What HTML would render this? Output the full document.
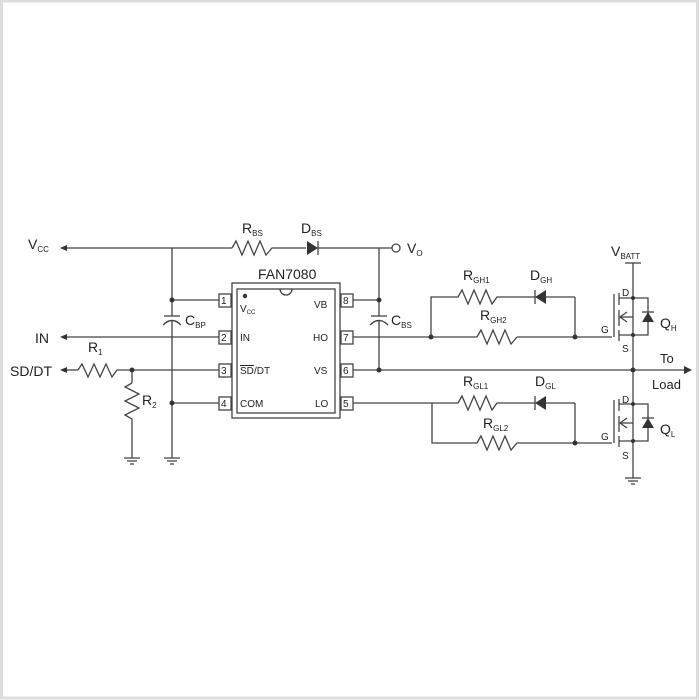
<!DOCTYPE html>
<html><head><meta charset="utf-8"><style>
body{margin:0;background:#fff}
svg{display:block}
text{font-family:"Liberation Sans",sans-serif;fill:#222}
</style></head><body>
<svg width="700" height="700" viewBox="0 0 700 700" xmlns="http://www.w3.org/2000/svg">
<rect x="1.5" y="1" width="696" height="697" fill="#fff" stroke="#ddd" stroke-width="3"/>
<g stroke="#444" stroke-width="1.3" fill="none">
<line x1="66" y1="248" x2="232" y2="248"/>
<polyline points="232,248 236,241 242,255 248,241 254,255 260,241 266,255 272,248 306,248"/>
<line x1="318" y1="248" x2="392" y2="248"/>
<circle cx="396" cy="248" r="4" fill="#fff"/>
<line x1="379" y1="248" x2="379" y2="316"/>
<line x1="379" y1="321" x2="379" y2="370"/>
<line x1="172" y1="248" x2="172" y2="316"/>
<line x1="172" y1="321" x2="172" y2="458"/>
<rect x="232" y="283" width="108" height="135"/>
<rect x="237" y="289" width="98" height="124"/>
<rect x="219" y="294" width="12" height="13"/>
<rect x="219" y="331" width="12" height="13"/>
<rect x="219" y="364" width="12" height="13"/>
<rect x="219" y="397" width="12" height="13"/>
<rect x="341" y="294" width="12" height="13"/>
<rect x="341" y="331" width="12" height="13"/>
<rect x="341" y="364" width="12" height="13"/>
<rect x="341" y="397" width="12" height="13"/>
<path d="M280,289 A6,6 0 0 0 292,289" />
<line x1="172" y1="300" x2="219" y2="300"/>
<line x1="172" y1="403" x2="219" y2="403"/>
<line x1="66" y1="337" x2="219" y2="337"/>
<line x1="66" y1="370" x2="78" y2="370"/>
<polyline points="78,370 82,364 88,377 94,364 100,377 106,364 112,377 117,370 219,370"/>
<line x1="132" y1="370" x2="132" y2="383"/>
<polyline points="132,383 125,387 139,394 125,401 139,408 125,415 132,419 132,458"/>
<line x1="124" y1="458" x2="140" y2="458"/><line x1="127" y1="461" x2="137" y2="461"/><line x1="130" y1="464" x2="134" y2="464"/>
<line x1="164" y1="458" x2="180" y2="458"/><line x1="167" y1="461" x2="177" y2="461"/><line x1="170" y1="464" x2="174" y2="464"/>
<line x1="625" y1="478" x2="641" y2="478"/><line x1="628" y1="481" x2="638" y2="481"/><line x1="631" y1="484" x2="635" y2="484"/>
<line x1="164" y1="316" x2="180" y2="316"/><path d="M163,325 Q172,316 181,325"/>
<line x1="371" y1="316" x2="387" y2="316"/><path d="M370,325 Q379,316 388,325"/>
<line x1="353" y1="300" x2="379" y2="300"/>
<line x1="353" y1="337" x2="477" y2="337"/>
<line x1="517" y1="337" x2="612" y2="337"/>
<line x1="353" y1="370" x2="684" y2="370"/>
<line x1="353" y1="403" x2="432" y2="403"/>
<polyline points="431,337 431,297 458,297 462,290 468,304 474,290 480,304 486,290 492,304 497,297 535,297"/>
<line x1="545" y1="297" x2="575" y2="297"/>
<line x1="575" y1="297" x2="575" y2="337"/>
<polyline points="477,337 481,330 487,344 493,330 499,344 505,330 511,344 517,337"/>
<polyline points="432,403 458,403 462,396 468,410 474,396 480,410 486,396 492,410 497,403 535,403"/>
<line x1="545" y1="403" x2="575" y2="403"/>
<polyline points="432,403 432,443 477,443 481,436 487,450 493,436 499,450 505,436 511,450 517,443 612,443"/>
<line x1="575" y1="403" x2="575" y2="443"/>
<line x1="625" y1="263" x2="641" y2="263"/>
<line x1="633" y1="263" x2="633" y2="478"/>
<line x1="614" y1="294" x2="614" y2="337"/>
<line x1="619" y1="293" x2="619" y2="305"/><line x1="619" y1="310" x2="619" y2="326"/><line x1="619" y1="330" x2="619" y2="341"/>
<polyline points="619,298 648,298 648,335 619,335"/>
<line x1="633" y1="317" x2="621" y2="317"/><polyline points="627,312 620,317 627,322"/>
<line x1="642" y1="312" x2="654" y2="312"/>
<line x1="614" y1="400" x2="614" y2="443"/>
<line x1="619" y1="399" x2="619" y2="411"/><line x1="619" y1="416" x2="619" y2="432"/><line x1="619" y1="436" x2="619" y2="447"/>
<polyline points="619,404 648,404 648,441 619,441"/>
<line x1="633" y1="423" x2="621" y2="423"/><polyline points="627,418 620,423 627,428"/>
<line x1="642" y1="418" x2="654" y2="418"/>
<line x1="318" y1="241" x2="318" y2="255"/>
<line x1="535" y1="290" x2="535" y2="304"/>
<line x1="535" y1="396" x2="535" y2="410"/>
</g>
<g fill="#333">
<path d="M60,248 L67,245 L67,251z"/>
<path d="M60,337 L67,334 L67,340z"/>
<path d="M60,370 L67,367 L67,373z"/>
<path d="M692,370 L684,366 L684,374z"/>
<path d="M307,241 L318,248 L307,255z"/>
<path d="M546,290 L535,297 L546,304z"/>
<path d="M546,396 L535,403 L546,410z"/>
<path d="M648,312 L642,322 L654,322z"/>
<path d="M648,418 L642,428 L654,428z"/>
<circle cx="172" cy="300" r="2.5"/><circle cx="172" cy="403" r="2.5"/>
<circle cx="132" cy="370" r="2.5"/>
<circle cx="379" cy="300" r="2.5"/><circle cx="379" cy="370" r="2.5"/>
<circle cx="431" cy="337" r="2.5"/><circle cx="575" cy="337" r="2.5"/>
<circle cx="575" cy="443" r="2.5"/><circle cx="633" cy="370" r="2.5"/>
<circle cx="633" cy="298" r="2"/><circle cx="633" cy="335" r="2"/>
<circle cx="633" cy="404" r="2"/><circle cx="633" cy="441" r="2"/>
<circle cx="245" cy="296" r="2.2"/>
</g>
<g font-size="14">
<text x="28" y="249">V<tspan font-size="8" dy="3">CC</tspan></text>
<text x="35" y="343">IN</text>
<text x="10" y="376">SD/DT</text>
<text x="88" y="352">R<tspan font-size="8" dy="3">1</tspan></text>
<text x="142" y="405">R<tspan font-size="8" dy="3">2</tspan></text>
<text x="242" y="233">R<tspan font-size="8" dy="3">BS</tspan></text>
<text x="301" y="233">D<tspan font-size="8" dy="3">BS</tspan></text>
<text x="407" y="253">V<tspan font-size="8" dy="3">O</tspan></text>
<text x="258" y="279">FAN7080</text>
<text x="185" y="325">C<tspan font-size="8" dy="3">BP</tspan></text>
<text x="391" y="325">C<tspan font-size="8" dy="3">BS</tspan></text>
<text x="463" y="280">R<tspan font-size="8" dy="3">GH1</tspan></text>
<text x="530" y="280">D<tspan font-size="8" dy="3">GH</tspan></text>
<text x="480" y="320">R<tspan font-size="8" dy="3">GH2</tspan></text>
<text x="463" y="386">R<tspan font-size="8" dy="3">GL1</tspan></text>
<text x="535" y="386">D<tspan font-size="8" dy="3">GL</tspan></text>
<text x="483" y="428">R<tspan font-size="8" dy="3">GL2</tspan></text>
<text x="611" y="256">V<tspan font-size="8" dy="3">BATT</tspan></text>
<text x="660" y="328">Q<tspan font-size="8" dy="3">H</tspan></text>
<text x="660" y="434">Q<tspan font-size="8" dy="3">L</tspan></text>
<text x="660" y="363" font-size="13">To</text>
<text x="652" y="389" font-size="13">Load</text>
</g>
<g font-size="10">
<text x="221" y="304">1</text><text x="221" y="341">2</text><text x="221" y="374">3</text><text x="221" y="407">4</text>
<text x="343" y="304">8</text><text x="343" y="341">7</text><text x="343" y="374">6</text><text x="343" y="407">5</text>
<text x="240" y="312">V<tspan font-size="6" dy="2">CC</tspan></text>
<text x="240" y="341">IN</text>
<text x="240" y="374" text-decoration="overline">SD</text><text x="254" y="374">/DT</text>
<text x="240" y="407">COM</text>
<text x="314" y="308">VB</text><text x="313" y="341">HO</text><text x="314" y="374">VS</text><text x="315" y="407">LO</text>
<text x="622" y="296">D</text><text x="601" y="333">G</text><text x="622" y="352">S</text>
<text x="622" y="403">D</text><text x="601" y="440">G</text><text x="622" y="459">S</text>
</g>
</svg>
</body></html>
